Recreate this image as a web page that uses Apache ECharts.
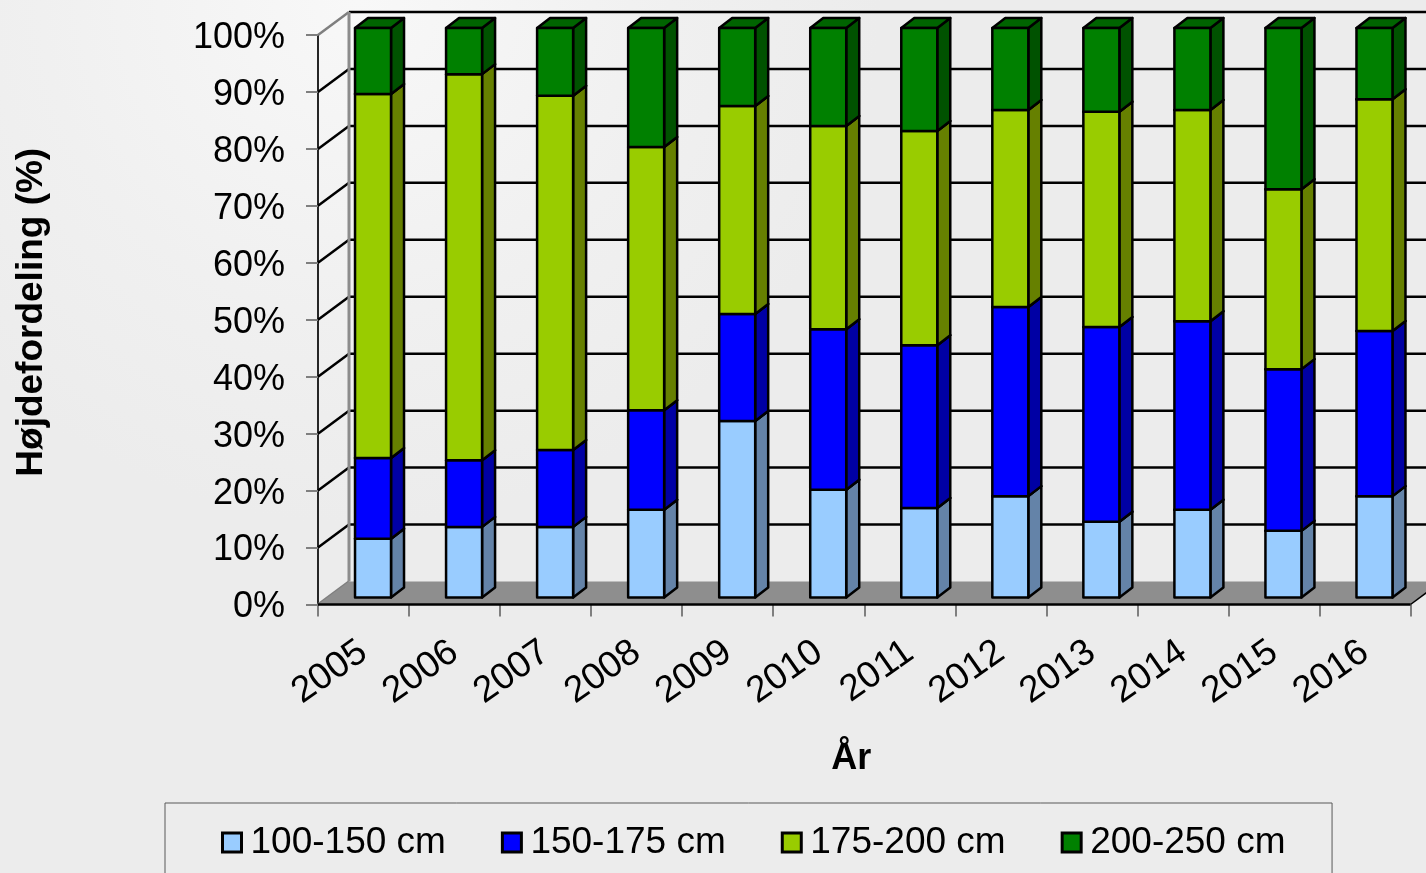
<!DOCTYPE html>
<html><head><meta charset="utf-8">
<style>html,body{margin:0;padding:0;background:#ececec;overflow:hidden}#c{width:1426px;height:873px}</style>
<script src="https://cdn.jsdelivr.net/npm/echarts@6/dist/echarts.min.js"></script>
</head><body><div id="c"></div>
<script>
const years = ['2005','2006','2007','2008','2009','2010','2011','2012','2013','2014','2015','2016'];
const band100 = [10.3,12.4,12.4,15.4,31.0,18.9,15.7,17.8,13.3,15.4,11.7,17.8];
const band150 = [14.2,11.7,13.5,17.5,18.8,28.2,28.6,33.2,34.2,33.1,28.4,29.0];
const band175 = [63.9,67.8,62.2,46.2,36.5,35.7,37.6,34.6,37.8,37.1,31.6,40.7];
const band200 = [11.6,8.1,11.9,20.9,13.7,17.2,18.1,14.4,14.7,14.4,28.3,12.5];
const yTicks = [0,10,20,30,40,50,60,70,80,90,100];
const names = ['100-150 cm','150-175 cm','175-200 cm','200-250 cm'];
const bands = [band100,band150,band175,band200];
const fronts = ['#99ccff','#0000ff','#99cc00','#008000'];
const sides = ['#6483a8','#0000a4','#668000','#005200'];
const tops = ['#7da6d0','#0000c8','#7da600','#006400'];

const WALL = [31,-23], FOOT = [9.5,-7], DEPTH = [13,-10], BAR_W = 36;

function wallItem(p, api){
  const v = api.value(0);
  const c = api.coord([0,v]);
  const half = api.size([1,0])[0]/2;
  const x0 = c[0]-half, y0 = c[1];
  const x1 = x0+WALL[0], y1 = y0+WALL[1];
  const stroke = (v===100||v===0) ? '#7f7f7f' : '#000';
  const kids = [{type:'line',shape:{x1:x0,y1:y0,x2:x1,y2:y1},style:{stroke:stroke,lineWidth:2.5},silent:true}];
  if(v>0) kids.push({type:'line',shape:{x1:x1,y1:y1,x2:1441,y2:y1},style:{stroke:'#000',lineWidth:2.5},silent:true});
  return {type:'group',children:kids};
}
function floorItem(p, api){
  const c0 = api.coord([0,0]), c1 = api.coord([11,0]);
  const half = api.size([1,0])[0]/2;
  const xl = c0[0]-half, xr = c1[0]+half, y = c0[1];
  const top100 = api.coord([0,100])[1];
  return {type:'group',children:[
    {type:'line',shape:{x1:xl+WALL[0],y1:y+WALL[1],x2:xl+WALL[0],y2:top100+WALL[1]},style:{stroke:'#8c8c8c',lineWidth:3}},
    {type:'polygon',shape:{points:[[xl,y],[xl+WALL[0],y+WALL[1]],[xr+WALL[0],y+WALL[1]],[xr,y]]},style:{fill:'#8e8e8e',stroke:null}},
    {type:'line',shape:{x1:xl,y1:y,x2:xr,y2:y},style:{stroke:'#000',lineWidth:2.5}},
    {type:'line',shape:{x1:xr,y1:y,x2:xr+WALL[0],y2:y+WALL[1]},style:{stroke:'#000',lineWidth:1.5}}
  ]};
}
function segment(s){
  return function(p, api){
    const i = api.value(0);
    const a = api.coord([i,api.value(1)]), b = api.coord([i,api.value(2)]);
    const xl = a[0]+FOOT[0]-BAR_W/2, xr = xl+BAR_W;
    const yb = a[1]+FOOT[1], yt = b[1]+FOOT[1];
    const st = {stroke:'#000',lineWidth:2.5,lineJoin:'round'};
    const dx = DEPTH[0], dy = DEPTH[1];
    return {type:'group',children:[
      {type:'polygon',shape:{points:[[xr,yb],[xr+dx,yb+dy],[xr+dx,yt+dy],[xr,yt]]},style:Object.assign({fill:sides[s]},st)},
      {type:'polygon',shape:{points:[[xl,yt],[xl+dx,yt+dy],[xr+dx,yt+dy],[xr,yt]]},style:Object.assign({fill:tops[s]},st)},
      {type:'rect',shape:{x:xl,y:yt,width:BAR_W,height:yb-yt},style:Object.assign({fill:fronts[s]},st)}
    ]};
  };
}
const running = years.map(()=>0);
const barSeries = bands.map((band,s)=>{
  const data = band.map((v,i)=>{const from=running[i];running[i]=from+v;return [i,from,running[i]];});
  return {type:'custom',name:names[s],z:5+s,renderItem:segment(s),encode:{x:0,y:[1,2]},clip:false,silent:true,
    itemStyle:{color:fronts[s],borderColor:'#000',borderWidth:2},data:data};
});
const font = '"Liberation Sans", Arial, sans-serif';
const chart = echarts.init(document.getElementById('c'),null,{renderer:'canvas'});
chart.setOption({
  animation:false,
  backgroundColor:{type:'radial',x:0.25,y:0,r:0.6,colorStops:[{offset:0,color:'#f8f8f8'},{offset:0.6,color:'#f0f0f0'},{offset:1,color:'#ececec'}]},
  grid:{left:318,right:15.5,top:35,bottom:268.5,containLabel:false,outerBoundsMode:'none'},
  legend:{left:165,top:803,padding:[21,46.5,19,56],orient:'horizontal',itemWidth:19,itemHeight:19,itemGap:55,
    borderColor:'#595959',borderWidth:1,backgroundColor:'transparent',icon:'rect',selectedMode:false,
    itemStyle:{borderColor:'#000',borderWidth:3},
    textStyle:{fontFamily:font,fontSize:37,color:'#000',padding:[0,0,0,4]},
    data:names},
  xAxis:{type:'category',data:years,boundaryGap:true,
    name:'År',nameLocation:'middle',nameGap:137,
    nameTextStyle:{fontFamily:font,fontSize:36,fontWeight:'bold',color:'#000',padding:[0,26,0,0]},
    axisLine:{show:false},
    axisTick:{show:true,alignWithLabel:false,length:12,lineStyle:{color:'#7f7f7f',width:2}},
    axisLabel:{rotate:35,interval:0,margin:44,fontFamily:font,fontSize:37,color:'#000'},
    splitLine:{show:false}},
  yAxis:{type:'value',min:0,max:100,interval:10,
    name:'Højdefordeling (%)',nameLocation:'middle',nameGap:268,nameRotate:90,
    nameTextStyle:{fontFamily:font,fontSize:37,fontWeight:'bold',color:'#000',padding:[0,0,0,15]},
    axisLine:{show:true,lineStyle:{color:'#262626',width:2}},
    axisTick:{show:true,length:12,lineStyle:{color:'#7f7f7f',width:2}},
    axisLabel:{margin:33,fontFamily:font,fontSize:36,color:'#000',formatter:'{value}%',verticalAlign:'top',lineHeight:6},
    splitLine:{show:false}},
  series:[
    {type:'custom',z:1,renderItem:wallItem,encode:{y:0},clip:false,silent:true,data:yTicks.map(v=>[v])},
    {type:'custom',z:2,renderItem:floorItem,clip:false,silent:true,encode:{y:0},data:[[0]]}
  ].concat(barSeries)
});
</script></body></html>
